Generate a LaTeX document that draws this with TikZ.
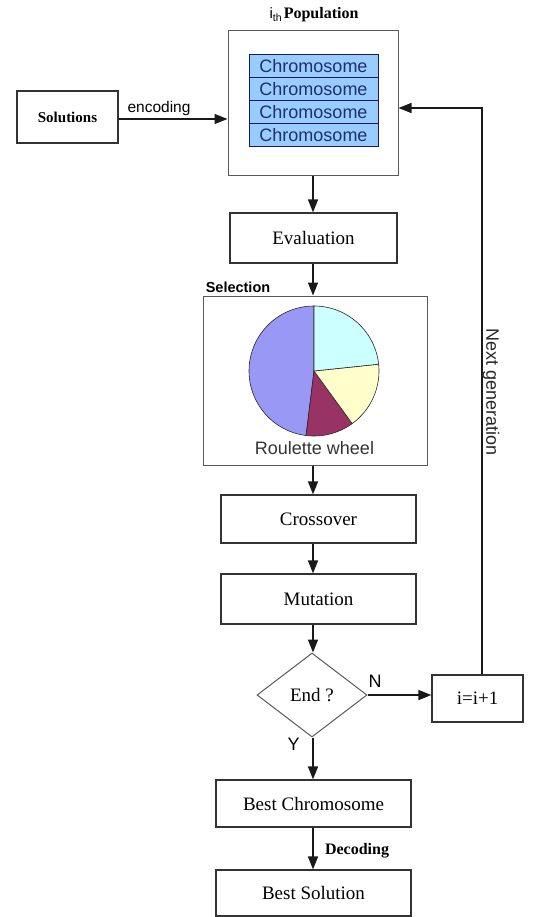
\documentclass[tikz,border=0pt]{standalone}
\usepackage{fontspec}
\setmainfont{Liberation Serif}
\setsansfont{Liberation Sans}
\usetikzlibrary{arrows.meta,shapes.geometric}
\definecolor{chromblue}{HTML}{99CCFF}
\definecolor{navyline}{HTML}{1A1A55}
\definecolor{navytext}{HTML}{1F2F6F}
\definecolor{pieviolet}{HTML}{9999F5}
\definecolor{piecyan}{HTML}{CCFFFF}
\definecolor{pieyellow}{HTML}{FFFFCC}
\definecolor{piemaroon}{HTML}{993366}
\tikzset{
  box/.style={draw=black!80, line width=1.2pt, fill=white, inner sep=0pt,
    font=\fontsize{19}{21}\selectfont},
  bigbox/.style={draw=black!65, line width=1pt, inner sep=0pt},
  arr/.style={-{Triangle[length=13pt,width=10pt]}, line width=1.4pt, black!90},
  chrom/.style={draw=navyline, line width=1pt, fill=chromblue, minimum width=129pt,
    minimum height=23pt, inner sep=0pt, text=navytext,
    font=\sffamily\fontsize{18}{20}\selectfont},
  sanslbl/.style={font=\sffamily\fontsize{16}{18}\selectfont, inner sep=0pt},
  boldlbl/.style={font=\bfseries\fontsize{16}{18}\selectfont, inner sep=0pt},
  pieedge/.style={draw=black!85, line width=0.6pt},
}
\begin{document}
\begin{tikzpicture}[x=1pt,y=-1pt]
\useasboundingbox (0,0) rectangle (534,917);
% population
\node[bigbox, minimum width=170pt, minimum height=145pt] (pop) at (313,103.5) {};
\node[chrom] (c1) at (313.5,66.5) {Chromosome};
\node[chrom] (c2) at (313.5,89.5) {Chromosome};
\node[chrom] (c3) at (313.5,112.5) {Chromosome};
\node[chrom] (c4) at (313.5,135.5) {Chromosome};
\node[inner sep=0pt] (poplbl) at (314,15) {{\sffamily\fontsize{15}{17}\selectfont i\textsubscript{th}}\,{\bfseries\fontsize{16}{18}\selectfont Population}};
% solutions
\node[box, minimum width=101pt, minimum height=52pt, font=\bfseries\fontsize{15}{17}\selectfont] (sol) at (67.5,117) {Solutions};
\node[sanslbl, font=\sffamily\fontsize{15.5}{17}\selectfont] (enc) at (159,108) {encoding};
% main column
\node[box, minimum width=167pt, minimum height=50pt] (eval) at (313.5,238) {Evaluation};
\node[bigbox, minimum width=224pt, minimum height=169pt] (sel) at (315,380.5) {};
\node[font=\sffamily\bfseries\fontsize{14.5}{16}\selectfont, inner sep=0pt] (sellbl) at (238,287) {Selection};
\node[box, minimum width=195pt, minimum height=48pt] (cross) at (318.5,519) {Crossover};
\node[box, minimum width=195pt, minimum height=50pt] (mut) at (318.5,599) {Mutation};
\node[diamond, draw=black!65, line width=1pt, minimum width=110pt, minimum height=84pt, inner sep=0pt,
  font=\fontsize{19}{21}\selectfont] (dia) at (312,695) {End ?};
\node[box, minimum width=91pt, minimum height=47pt] (inc) at (477.5,698.5) {i=i+1};
\node[box, minimum width=195pt, minimum height=47pt] (bc) at (313.5,803.5) {Best Chromosome};
\node[box, minimum width=195pt, minimum height=46pt] (bs) at (313.5,893) {Best Solution};
% pie
\begin{scope}[shift={(314,371)}]
  \filldraw[pieedge, fill=pieviolet] (0,0) -- (90:65pt) arc[start angle=90, end angle=263, radius=65pt] -- cycle;
  \filldraw[pieedge, fill=piemaroon] (0,0) -- (263:65pt) arc[start angle=263, end angle=306, radius=65pt] -- cycle;
  \filldraw[pieedge, fill=pieyellow] (0,0) -- (306:65pt) arc[start angle=306, end angle=366, radius=65pt] -- cycle;
  \filldraw[pieedge, fill=piecyan] (0,0) -- (6:65pt) arc[start angle=6, end angle=90, radius=65pt] -- cycle;
\end{scope}
\node[sanslbl, font=\sffamily\fontsize{18}{20}\selectfont, text=black!80] (rw) at (314.5,448) {Roulette wheel};
% connectors
\coordinate (col) at (313,0);
\coordinate (fb) at (482,108);
\draw[arr] (sol.east |- 0,119) -- (pop.west |- 0,119);
\draw[arr] (col |- pop.south) -- (col |- eval.north);
\draw[arr] (col |- eval.south) -- (col |- sel.north);
\draw[arr] (col |- sel.south) -- (col |- cross.north);
\draw[arr] (col |- cross.south) -- (col |- mut.north);
\draw[arr] (col |- mut.south) -- (col |- dia.north);
\draw[arr] (dia.east) -- (dia.east -| inc.west);
\draw[arr] (col |- dia.south) -- (col |- bc.north);
\draw[arr] (col |- bc.south) -- (col |- bs.north);
\draw[arr] (fb |- inc.north) -- (fb) -- (fb -| pop.east);
% labels
\node[sanslbl, font=\sffamily\fontsize{18}{20}\selectfont] (nl) at (375,681) {N};
\node[sanslbl, font=\sffamily\fontsize{18}{20}\selectfont] (yl) at (293.5,744) {Y};
\node[boldlbl] (dec) at (357,851) {Decoding};
\node[sanslbl, font=\sffamily\fontsize{18}{20}\selectfont, rotate=-90, text=black!85] (ng) at (491,392) {Next generation};
\end{tikzpicture}
\end{document}
